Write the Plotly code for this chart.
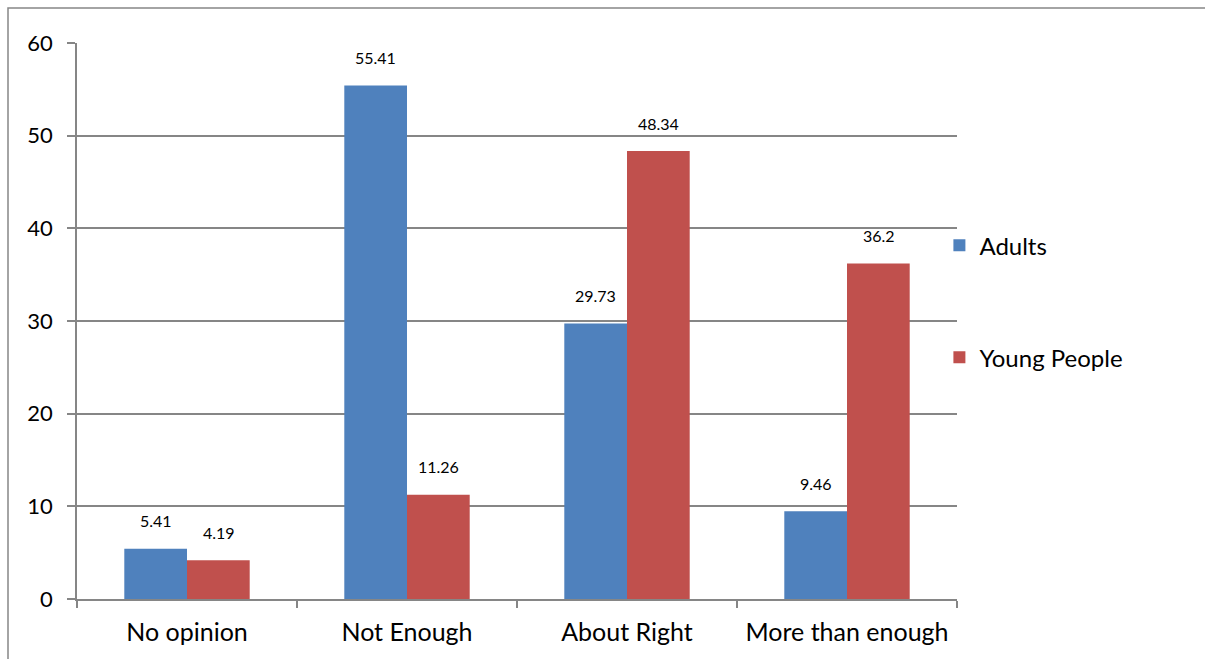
import plotly.graph_objects as go

categories = ["No opinion", "Not Enough", "About Right", "More than enough"]
adults = [5.41, 55.41, 29.73, 9.46]
young_people = [4.19, 11.26, 48.34, 36.2]
y_ticks = [0, 10, 20, 30, 40, 50, 60]

BLUE = "#4F81BD"
RED = "#C0504D"
GRID = "#868686"
FONT = "Lato, 'Open Sans', sans-serif"

W, H = 1205, 659
L, R, T, B = 77, 248, 43, 60

fig = go.Figure()
fig.add_trace(go.Bar(x=categories, y=adults, name="Adults", marker_color=BLUE,
                     marker_line_width=0, legendgroup="a"))
fig.add_trace(go.Bar(x=categories, y=young_people, name="Young People", marker_color=RED,
                     marker_line_width=0, legendgroup="b"))

# value labels above each bar
for series, shift in ((adults, -31.5), (young_people, 31.5)):
    for cat, v in zip(categories, series):
        fig.add_annotation(x=cat, y=v, text=f"{v:g}", showarrow=False,
                           xshift=shift, yshift=28, yanchor="middle",
                           font=dict(size=16, color="black", family=FONT))

# outer chart frame
pw, ph = W - L - R, H - T - B
fig.add_shape(type="rect", xref="paper", yref="paper",
              x0=(8 - L) / pw, x1=(W + 20 - L) / pw,
              y0=-(H + 20 - T - ph) / ph, y1=1 + (T - 8) / ph,
              line=dict(color=GRID, width=1.5), fillcolor="rgba(0,0,0,0)")

fig.update_layout(
    width=W, height=H,
    margin=dict(l=L, r=R, t=T, b=B),
    paper_bgcolor="white", plot_bgcolor="white",
    barmode="group", bargap=0.43, bargroupgap=0,
    font=dict(family=FONT, color="black"),
    legend=dict(x=0.98, y=0.535, xanchor="left", yanchor="middle",
                font=dict(size=24, family=FONT), tracegroupgap=78,
                itemwidth=30, bgcolor="rgba(0,0,0,0)"),
    xaxis=dict(showline=True, linecolor=GRID, linewidth=1.5,
               ticks="outside", tickson="boundaries", ticklen=7,
               tickcolor=GRID, tickwidth=1.5, ticklabelstandoff=10,
               tickfont=dict(size=25, family=FONT), showgrid=False),
    yaxis=dict(range=[0, 60], tickvals=y_ticks, showline=True, linecolor=GRID,
               linewidth=1.5, ticks="outside", ticklen=8, tickcolor=GRID,
               tickwidth=1.5, showgrid=True, gridcolor=GRID, gridwidth=1.5,
               zeroline=False, ticklabelstandoff=10,
               tickfont=dict(size=22, family=FONT)),
)

fig.write_html("out.html")
